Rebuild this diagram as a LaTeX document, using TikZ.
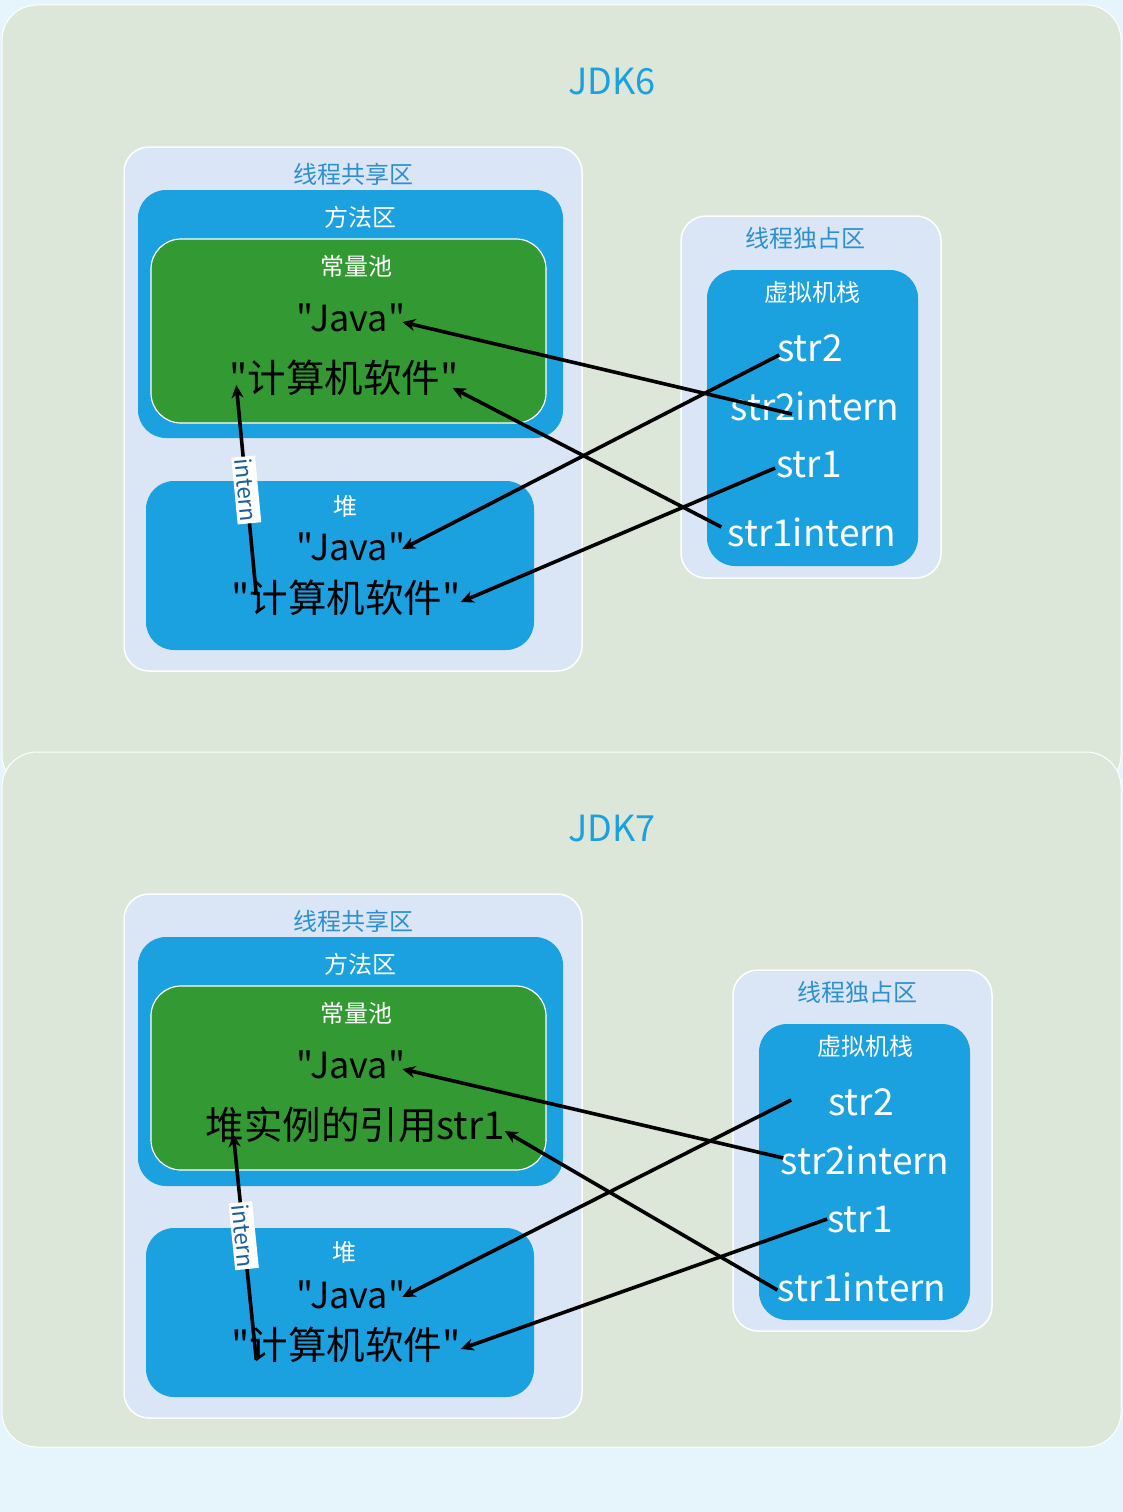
\documentclass[tikz,border=0pt]{standalone}
\usepackage{fontspec}
\setmainfont{Noto Sans CJK SC}[Ligatures=TeXOff]
\usetikzlibrary{arrows.meta,calc}
\definecolor{bgblue}{HTML}{E6F4FB}
\definecolor{panelgreen}{HTML}{DCE6D9}
\definecolor{regionblue}{HTML}{DAE6F5}
\definecolor{mblue}{HTML}{1BA0E0}
\definecolor{mgreen}{HTML}{339933}
\definecolor{lblblue}{HTML}{2E8FD0}
\definecolor{intblue}{HTML}{1B5E9B}
\begin{document}
\begin{tikzpicture}[x=1pt,y=-1pt,
  panel/.style={rounded corners=35pt, fill=panelgreen, draw=white, line width=1pt},
  region/.style={rectangle, rounded corners=25pt, fill=regionblue, draw=white, line width=1.5pt, inner sep=0},
  bluebox/.style={rectangle, rounded corners=28pt, fill=mblue, inner sep=0},
  greenbox/.style={rectangle, rounded corners=30pt, fill=mgreen, draw=white, line width=1.2pt, inner sep=0},
  rlbl/.style={font=\fontsize{24}{27}\selectfont, text=lblblue, inner sep=0},
  wlbl/.style={font=\fontsize{24}{27}\selectfont, text=white, inner sep=0},
  big/.style={font=\fontsize{36}{40}\selectfont, text=black, inner sep=0},
  bigcjk/.style={font=\fontsize{38.5}{42}\selectfont, text=black, inner sep=0},
  bigw/.style={font=\fontsize{37}{40}\selectfont, text=white, inner sep=0},
  title/.style={font=\fontsize{36}{40}\selectfont, text=mblue, inner sep=0},
  refarrow/.style={line width=3.6pt, -{Stealth[length=13pt,width=12pt,inset=4pt]}},
  internlbl/.style={sloped, fill=white, text=intblue, font=\fontsize{22.5}{24}\selectfont, inner xsep=2pt, inner ysep=3pt}
]
\useasboundingbox (0,0) rectangle (1123,1512);
\fill[bgblue] (0,0) rectangle (1123,1512);
% panels
\draw[panel] (2,5) rectangle (1121,790);
\draw[panel] (2,752) rectangle (1121,1447);
\node[title] (t6) at (612,82) {JDK6};
\node[title] (t7) at (612,829) {JDK7};

% ===== JDK6 =====
\node[region, minimum width=458pt, minimum height=524pt] (share6) at (353,409) {};
\node[rlbl] (share6l) at (353,174) {线程共享区};
\node[bluebox, minimum width=425pt, minimum height=248pt] (method6) at (350.5,314) {};
\node[wlbl] (method6l) at (360,217) {方法区};
\node[greenbox, minimum width=395pt, minimum height=184pt] (pool6) at (348.5,331) {};
\node[wlbl] (pool6l) at (356,266) {常量池};
\node[big] (pjava6) at (351,318) {"Java"};
\node[bigcjk] (psoft6) at (344,378) {"计算机软件"};
\node[bluebox, minimum width=388pt, minimum height=169pt] (heap6) at (340,565.5) {};
\node[wlbl] (heap6l) at (345,506) {堆};
\node[big] (hjava6) at (351,547) {"Java"};
\node[bigcjk] (hsoft6) at (346,598) {"计算机软件"};

\node[region, minimum width=260pt, minimum height=362pt] (own6) at (811,397) {};
\node[rlbl] (own6l) at (805,238) {线程独占区};
\node[bluebox, minimum width=211pt, minimum height=296pt] (stack6) at (812.5,418) {};
\node[wlbl] (stack6l) at (812,292) {虚拟机栈};
\node[bigw] (s26) at (810,348) {str2};
\node[bigw] (s2i6) at (815,406) {str2intern};
\node[bigw] (s16) at (809,465) {str1};
\node[bigw] (s1i6) at (812,532) {str1intern};

\draw[refarrow] ($(s2i6.center)+(-23,8)$) -- ($(pjava6.east)+(-3,4)$);
\draw[refarrow] ($(s1i6.west)+(-6,-5)$) -- ($(psoft6.east)+(-6,10)$);
\draw[refarrow] ($(s26.west)+(2,7)$) -- ($(hjava6.east)+(-3,2)$);
\draw[refarrow] ($(s16.west)+(-1,3)$) -- ($(hsoft6.east)+(0,4)$);
\draw[refarrow] ($(hsoft6.west)+(25,-3)$) -- node[internlbl, pos=0.5] {intern} ($(psoft6.west)+(7,7)$);

% ===== JDK7 =====
\node[region, minimum width=458pt, minimum height=524pt] (share7) at (353,1156) {};
\node[rlbl] (share7l) at (353,921) {线程共享区};
\node[bluebox, minimum width=425pt, minimum height=249pt] (method7) at (350.5,1061.5) {};
\node[wlbl] (method7l) at (360,964) {方法区};
\node[greenbox, minimum width=395pt, minimum height=184pt] (pool7) at (348.5,1078) {};
\node[wlbl] (pool7l) at (356,1013) {常量池};
\node[big] (pjava7) at (351,1065) {"Java"};
\node[bigcjk] (pref7) at (355,1125) {堆实例的引用str1};
\node[bluebox, minimum width=388pt, minimum height=169pt] (heap7) at (340,1312.5) {};
\node[wlbl] (heap7l) at (344,1252) {堆};
\node[big] (hjava7) at (351,1295) {"Java"};
\node[bigcjk] (hsoft7) at (346,1345) {"计算机软件"};

\node[region, minimum width=259pt, minimum height=361pt] (own7) at (862.5,1150.5) {};
\node[rlbl] (own7l) at (857,992) {线程独占区};
\node[bluebox, minimum width=211pt, minimum height=296pt] (stack7) at (864.5,1172) {};
\node[wlbl] (stack7l) at (865,1046) {虚拟机栈};
\node[bigw] (s27) at (861,1102) {str2};
\node[bigw] (s2i7) at (865,1160) {str2intern};
\node[bigw] (s17) at (860,1220) {str1};
\node[bigw] (s1i7) at (862,1287) {str1intern};

\draw[refarrow] ($(s2i7.west)+(3,-2)$) -- ($(pjava7.east)+(-3,4)$);
\draw[refarrow] ($(s1i7.west)+(0,3)$) -- ($(pref7.east)+(0,6)$);
\draw[refarrow] ($(s27.west)+(-37,-2)$) -- ($(hjava7.east)+(-3,2)$);
\draw[refarrow] ($(s17.west)+(0,-1)$) -- ($(hsoft7.east)+(0,4)$);
\draw[refarrow] ($(hsoft7.west)+(25,15)$) -- node[internlbl, pos=0.55] {intern} ($(pref7.west)+(28,9)$);
\end{tikzpicture}
\end{document}
